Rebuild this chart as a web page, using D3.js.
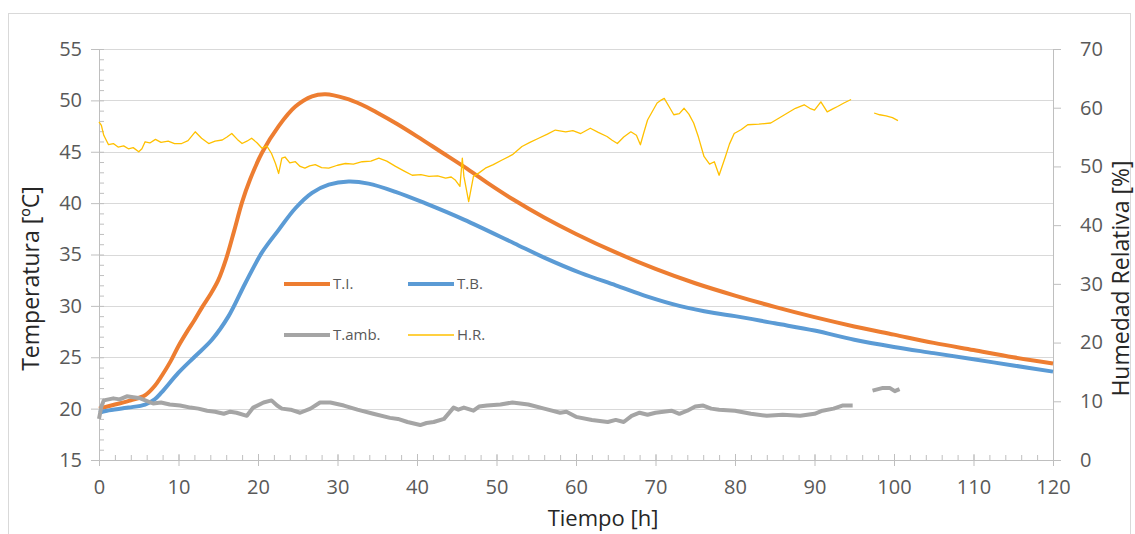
<!DOCTYPE html>
<html>
<head>
<meta charset="utf-8">
<script src="https://cdn.jsdelivr.net/npm/d3@7"></script>
<style>
  body { margin: 0; background: #fff; }
  text { font-family: "Open Sans", sans-serif; }
</style>
</head>
<body>
<div id="chart"></div>
<script>
// series values: [hour, value]
const tiData = [
  [0, 20.0], [2, 20.4], [4, 20.8], [5.8, 21.3], [7, 22.2], [7.9, 23.2], [9, 24.6],
  [10, 26.1], [11, 27.4], [12, 28.6], [13, 29.9], [14, 31.1], [15, 32.5], [16, 34.6],
  [17, 37.3], [18, 40.1], [19, 42.3], [20.5, 44.9], [22.6, 47.5], [24.7, 49.4],
  [26.8, 50.4], [28.5, 50.6], [31, 50.2], [33, 49.6], [35, 48.8], [37.5, 47.7],
  [40, 46.5], [43, 45.0], [46, 43.5], [49, 41.9], [52, 40.4], [56, 38.6], [60, 37.0],
  [65, 35.2], [70, 33.6], [75, 32.2], [80, 31.0], [85, 29.9], [90, 28.9], [95, 28.0],
  [100, 27.2], [105, 26.4], [110, 25.7], [115, 25.0], [120, 24.4]
];

const tbData = [
  [0, 19.6], [1, 19.8], [3.7, 20.1], [5.8, 20.4], [7, 20.9], [7.9, 21.6], [10, 23.5],
  [12.1, 25.1], [14.2, 26.7], [16.3, 29.0], [18.4, 32.2], [20.5, 35.2], [22.6, 37.4],
  [24.7, 39.5], [26.8, 41.0], [28.9, 41.8], [31.4, 42.1], [33.9, 41.9], [37.3, 41.1],
  [41, 40.0], [45.9, 38.4], [52.2, 36.1], [56, 34.7], [60.6, 33.2], [65, 32.0],
  [69, 30.9], [73, 30.0], [77.4, 29.3], [80, 29.0], [85, 28.3], [90, 27.6],
  [95, 26.7], [100, 26.0], [105, 25.4], [110, 24.8], [115, 24.2], [120, 23.6]
];

const ambData = [
  [0, 19.0], [0.3, 20.2], [0.6, 20.8], [1.8, 21.0], [2.6, 20.9], [3.5, 21.2], [4.3, 21.1],
  [5.2, 21.0], [6.8, 20.5], [7.8, 20.6], [8.9, 20.4], [10.2, 20.3], [11.5, 20.1],
  [12.5, 20.0], [13.6, 19.8], [14.6, 19.7], [15.7, 19.5], [16.5, 19.7], [17.3, 19.6],
  [18.6, 19.3], [19.4, 20.1], [20.7, 20.6], [21.7, 20.8], [22.4, 20.3], [23, 20.0],
  [24.1, 19.9], [25.3, 19.6], [26.6, 20.0], [27.8, 20.6], [29.1, 20.6], [30.8, 20.3],
  [32.5, 19.9], [34.5, 19.5], [36.6, 19.1], [37.6, 19.0], [38.8, 18.7], [40.4, 18.4],
  [41.2, 18.6], [42.1, 18.7], [43.4, 19.0], [44.6, 20.1], [45.2, 19.9], [45.9, 20.1],
  [47.1, 19.8], [47.8, 20.2], [48.8, 20.3], [50.5, 20.4], [52, 20.6], [54, 20.4],
  [56, 20.0], [58, 19.6], [58.8, 19.7], [60, 19.2], [62, 18.9], [63, 18.8], [64, 18.7],
  [65, 18.9], [66, 18.7], [67, 19.3], [68, 19.6], [69, 19.4], [70, 19.6], [72, 19.8],
  [73, 19.5], [74, 19.8], [75, 20.2], [76, 20.3], [77, 20.0], [78, 19.9], [80, 19.8],
  [82, 19.5], [84, 19.3], [86, 19.4], [88.2, 19.3], [90, 19.5], [91, 19.8],
  [92.4, 20.0], [93.5, 20.3], [94.8, 20.3], [96, null],
  [97.3, 21.75], [98.5, 22.0], [99.5, 22.0], [100.1, 21.7], [100.7, 21.9]
];

const hrData = [
  [0, 57.6], [0.3, 57.0], [0.6, 55.3], [1.2, 53.7], [1.8, 53.9], [2.4, 53.3], [3.1, 53.5],
  [3.7, 53.0], [4.3, 53.2], [5, 52.5], [5.4, 53.0], [5.8, 54.2], [6.4, 54.0], [7.1, 54.6],
  [7.8, 54.1], [8.7, 54.3], [9.5, 53.9], [10.4, 53.9], [11.2, 54.4], [12.1, 55.9],
  [12.9, 54.8], [13.8, 53.9], [14.6, 54.3], [15.5, 54.5], [16.1, 55.0], [16.7, 55.6],
  [17.4, 54.6], [18, 53.9], [18.6, 54.3], [19.2, 54.8], [19.9, 54.0], [20.5, 53.1],
  [21.1, 53.5], [21.7, 52.2], [22.2, 50.5], [22.6, 48.8], [23, 51.4], [23.4, 51.6],
  [24, 50.6], [24.7, 50.8], [25.3, 50.0], [25.9, 49.7], [26.5, 50.1], [27.2, 50.3],
  [28, 49.8], [28.9, 49.7], [30, 50.2], [31, 50.5], [32, 50.4], [33.1, 50.8], [34.2, 50.9],
  [35.2, 51.4], [36.2, 50.9], [37.3, 50.0], [38.4, 49.2], [39.4, 48.5], [40.5, 48.6],
  [41.5, 48.3], [42.6, 48.4], [43.6, 48.0], [44.3, 48.2], [44.8, 47.7], [45.4, 46.6],
  [45.7, 51.4], [45.9, 48.3], [46.5, 44.0], [47.1, 48.3], [47.8, 48.9], [48.6, 49.7],
  [49.6, 50.3], [50.7, 51.1], [52, 52.0], [53.2, 53.4], [54.2, 54.1], [55.3, 54.8],
  [56.4, 55.5], [57.4, 56.2], [58.7, 55.9], [59.6, 56.1], [60.6, 55.6], [61.8, 56.5],
  [62.8, 55.8], [63.9, 55.1], [64.5, 54.5], [65.2, 53.9], [66, 55.0], [66.9, 55.9],
  [67.6, 55.3], [68.1, 53.7], [68.5, 55.6], [69, 57.9], [70.2, 60.8], [70.6, 61.2],
  [71.1, 61.6], [71.7, 60.2], [72.3, 58.8], [73, 59.0], [73.6, 59.9], [74.2, 58.9],
  [74.8, 57.4], [75.4, 55.0], [76.1, 51.7], [76.8, 50.4], [77.4, 50.8], [78, 48.5],
  [78.8, 51.7], [79.3, 53.8], [79.9, 55.6], [80.8, 56.3], [81.6, 57.1], [83, 57.2],
  [84.5, 57.4], [85.5, 58.2], [86.6, 59.1], [87.6, 59.9], [88.7, 60.5], [89.4, 59.9],
  [90, 59.6], [90.8, 61.0], [91.6, 59.3], [92.3, 59.8], [92.9, 60.2], [93.7, 60.8],
  [94.6, 61.4], [96, null],
  [97.5, 59.1], [98.2, 58.8], [99, 58.6], [99.8, 58.3], [100.5, 57.8]
];

const legendNames = ["T.I.", "T.B.", "T.amb.", "H.R."];
const legendColors = ["#ED7D31", "#5B9BD5", "#A5A5A5", "#FFC000"];
const leftTicks = d3.range(15, 56, 5);
const rightTicks = d3.range(0, 71, 10);
const bottomTicks = d3.range(0, 121, 10);

const width = 1135;
const height = 534;

const svg = d3.select("#chart")
  .append("svg")
  .attr("width", width)
  .attr("height", height);

// chart area border
svg.append("rect")
  .attr("x", 8.5).attr("y", 13.5)
  .attr("width", 1122).attr("height", 530)
  .attr("fill", "#fff")
  .attr("stroke", "#d9d9d9");

const x = d3.scaleLinear().domain([0, 120]).range([99, 1053]);
const yL = d3.scaleLinear().domain([15, 55]).range([460, 49]);
const yR = d3.scaleLinear().domain([0, 70]).range([460, 49]);

// gridlines
svg.append("g")
  .selectAll("line")
  .data(leftTicks.filter(d => d > 15))
  .join("line")
  .attr("x1", x(0)).attr("x2", x(120))
  .attr("y1", d => Math.round(yL(d)) + 0.5)
  .attr("y2", d => Math.round(yL(d)) + 0.5)
  .attr("stroke", "#d9d9d9");

function styleAxis(g) {
  g.select(".domain").attr("stroke", "#bfbfbf");
  g.selectAll(".tick line").attr("stroke", "#bfbfbf");
  g.selectAll("text")
    .attr("fill", "#595959")
    .style("font-size", "20px")
    .style("font-family", "'Open Sans', sans-serif");
}

// left axis: major outside, minor inside
svg.append("g")
  .attr("transform", `translate(${x(0)},0)`)
  .call(d3.axisLeft(yL).tickValues(leftTicks).tickSize(8).tickPadding(9).tickSizeOuter(0))
  .call(styleAxis);
svg.append("g")
  .attr("transform", `translate(${x(0)},0)`)
  .call(d3.axisRight(yL).tickValues(d3.range(15, 56, 1)).tickSize(5).tickFormat("").tickSizeOuter(0))
  .call(styleAxis);

// right axis
svg.append("g")
  .attr("transform", `translate(${x(120)},0)`)
  .call(d3.axisRight(yR).tickValues(rightTicks).tickSize(8).tickPadding(19).tickSizeOuter(0))
  .call(styleAxis);

// bottom axis: minor above, major crossing
svg.append("g")
  .attr("transform", `translate(0,${yL(15)})`)
  .call(d3.axisTop(x).tickValues(d3.range(0, 121, 2)).tickSize(5).tickFormat("").tickSizeOuter(0))
  .call(styleAxis);
svg.append("g")
  .attr("transform", `translate(0,${yL(15)})`)
  .call(d3.axisTop(x).tickValues(bottomTicks).tickSize(6).tickFormat("").tickSizeOuter(0))
  .call(styleAxis);
svg.append("g")
  .attr("transform", `translate(0,${yL(15)})`)
  .call(d3.axisBottom(x).tickValues(bottomTicks).tickSize(6).tickPadding(14).tickSizeOuter(0))
  .call(styleAxis);

// series
const lineL = d3.line()
  .defined(d => d[1] != null)
  .x(d => x(d[0]))
  .y(d => yL(d[1]));
const lineR = d3.line()
  .defined(d => d[1] != null)
  .x(d => x(d[0]))
  .y(d => yR(d[1]));

svg.append("path")
  .datum(tiData)
  .attr("d", lineL.curve(d3.curveCatmullRom.alpha(0.5)))
  .attr("fill", "none").attr("stroke", legendColors[0])
  .attr("stroke-width", 4).attr("stroke-linejoin", "round");

svg.append("path")
  .datum(tbData)
  .attr("d", lineL.curve(d3.curveCatmullRom.alpha(0.5)))
  .attr("fill", "none").attr("stroke", legendColors[1])
  .attr("stroke-width", 4).attr("stroke-linejoin", "round");

svg.append("path")
  .datum(ambData)
  .attr("d", lineL.curve(d3.curveLinear))
  .attr("fill", "none").attr("stroke", legendColors[2])
  .attr("stroke-width", 4).attr("stroke-linejoin", "round");

svg.append("path")
  .datum(hrData)
  .attr("d", lineR.curve(d3.curveLinear))
  .attr("fill", "none").attr("stroke", legendColors[3])
  .attr("stroke-width", 1.3).attr("stroke-linejoin", "round");

// legend, 2 x 2
const legend = svg.append("g");
const legendItems = legend.selectAll("g")
  .data(legendNames)
  .join("g")
  .attr("transform", (d, i) => `translate(${284 + (i % 2) * 124},${284 + Math.floor(i / 2) * 51})`);
legendItems.append("line")
  .attr("x1", 0).attr("x2", 46)
  .attr("stroke", (d, i) => legendColors[i])
  .attr("stroke-width", (d, i) => i === 3 ? 1.3 : 4);
legendItems.append("text")
  .attr("x", 49).attr("dy", "0.35em")
  .attr("fill", "#595959")
  .style("font-size", "15px")
  .text(d => d);

// axis titles
svg.append("text")
  .attr("transform", `translate(31,${(49 + 460) / 2 + 24}) rotate(-90)`)
  .attr("text-anchor", "middle").attr("dy", "0.35em")
  .attr("fill", "#262626")
  .style("font-size", "23px")
  .text("Temperatura [ºC]");

svg.append("text")
  .attr("transform", `translate(1121,${(49 + 460) / 2 + 24}) rotate(-90)`)
  .attr("text-anchor", "middle").attr("dy", "0.35em")
  .attr("fill", "#262626")
  .style("font-size", "23px")
  .text("Humedad Relativa [%]");

svg.append("text")
  .attr("x", (x(0) + x(120)) / 2 + 27)
  .attr("y", 518)
  .attr("text-anchor", "middle").attr("dy", "0.35em")
  .attr("fill", "#262626")
  .style("font-size", "22px")
  .text("Tiempo [h]");
</script>
</body>
</html>
